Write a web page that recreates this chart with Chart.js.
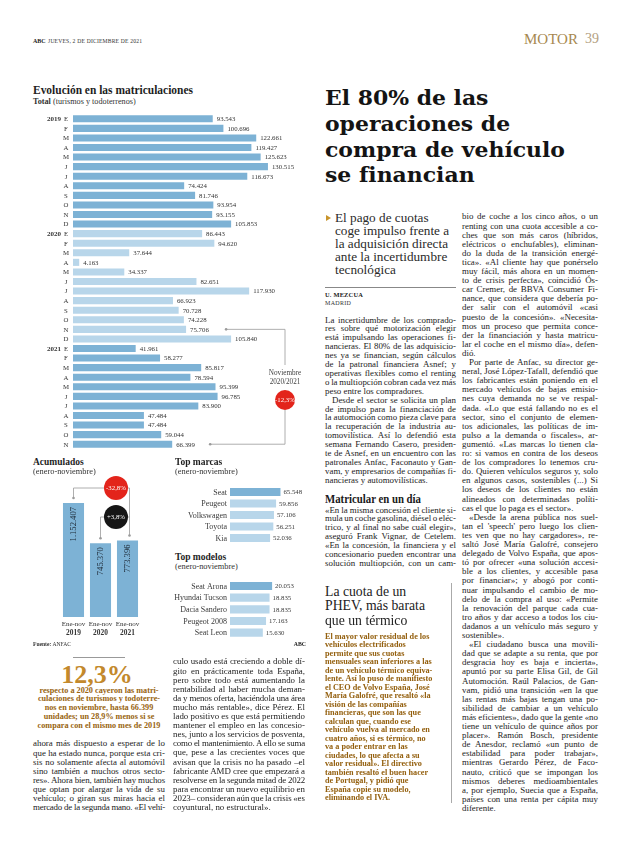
<!DOCTYPE html>
<html lang="es">
<head>
<meta charset="utf-8">
<title>Motor 39</title>
<script src="https://cdn.jsdelivr.net/npm/chart.js@4.4.0/dist/chart.umd.min.js"></script>
<style>
  html, body { margin: 0; padding: 0; }
  body { width: 620px; height: 846px; position: relative; overflow: hidden; background: #fff;
         font-family: "Liberation Serif", serif; color: #262626; }
  .a { position: absolute; white-space: nowrap; }
  canvas { position: absolute; }
</style>
</head>
<body>
<canvas id="evol" width="280" height="342" style="left:33px;top:110px;width:280px;height:342px"></canvas>
<canvas id="acum" width="120" height="172" style="left:33px;top:470px;width:120px;height:172px"></canvas>
<canvas id="marcas" width="140" height="60" style="left:170px;top:484px;width:140px;height:60px"></canvas>
<canvas id="modelos" width="140" height="62" style="left:170px;top:578px;width:140px;height:62px"></canvas>
<script>
// datos (ANFAC)
const evolMonths = ['E', 'F', 'M', 'A', 'M', 'J', 'J', 'A', 'S', 'O', 'N', 'D'];
const evolYears = ['2019', '2020', '2021'];
const total2019 = [93543, 100696, 122661, 119427, 125623, 130515, 116673, 74424, 81746, 93954, 93155, 105853];
const total2020 = [86443, 94620, 37644, 4163, 34337, 82651, 117930, 66923, 70728, 74228, 75706, 105840];
const total2021 = [41961, 58277, 85817, 78594, 95399, 96785, 83900, 47484, 47484, 59044, 66399];
const acumYears = ['2019', '2020', '2021'];
const acumValues = [1152407, 745370, 773396];
const acumChanges = ['-32,8%', '+3,8%'];
const novChange = '-12,3%';
const marcas = ['Seat', 'Peugeot', 'Volkswagen', 'Toyota', 'Kia'];
const marcasValues = [65548, 59856, 57106, 56251, 52036];
const modelos = ['Seat Arona', 'Hyundai Tucson', 'Dacia Sandero', 'Peugeot 2008', 'Seat Leon'];
const modelosValues = [20053, 18835, 18835, 17163, 15630];

const BLUE = '#7db2d5', LIGHT = '#b8d6ea', RED = '#e3241b', LINE = '#9b9b9b';
const fmt = v => String(v).replace(/\B(?=(\d{3})+(?!\d))/g, '.');
const SERIF = '"Liberation Serif"';

const evolValues = [...total2019, ...total2020, ...total2021];
const evolLabels = evolValues.map((v, i) => evolMonths[i % 12]);
const evolColors = evolValues.map((v, i) => (i >= 12 && i < 24) ? LIGHT : BLUE);

function dot(ctx, x, y) { ctx.beginPath(); ctx.arc(x, y, 1.3, 0, Math.PI * 2); ctx.fill(); }
function bubble(ctx, x, y, r, color, text) {
  ctx.fillStyle = color; ctx.beginPath(); ctx.arc(x, y, r, 0, Math.PI * 2); ctx.fill();
  ctx.fillStyle = '#fff'; ctx.font = '6.8px ' + SERIF; ctx.textAlign = 'center'; ctx.textBaseline = 'middle';
  ctx.fillText(text, x, y + 0.5);
}

const evolPlugin = {
  id: 'evolLabels',
  afterDatasetsDraw(chart) {
    const ctx = chart.ctx, bars = chart.getDatasetMeta(0).data;
    ctx.save();
    ctx.textBaseline = 'middle';
    bars.forEach((b, i) => {
      ctx.fillStyle = '#333';
      ctx.font = '6.8px ' + SERIF;
      ctx.textAlign = 'left';
      ctx.fillText(fmt(evolValues[i]), b.x + 4, b.y + 0.5);
      ctx.textAlign = 'center';
      ctx.fillText(evolLabels[i], 33, b.y + 0.5);
      if (i % 12 === 0) {
        ctx.textAlign = 'right';
        ctx.font = 'bold 7px ' + SERIF;
        ctx.fillText(evolYears[i / 12], 28, b.y + 0.5);
      }
    });
    // noviembre 2020 / 2021
    const a = bars[22], c = bars[34], lx = 252;
    ctx.strokeStyle = LINE; ctx.fillStyle = LINE; ctx.lineWidth = 0.8;
    ctx.beginPath();
    ctx.moveTo(a.x + 40, a.y); ctx.lineTo(lx, a.y); ctx.lineTo(lx, 255);
    ctx.moveTo(lx, 300); ctx.lineTo(lx, c.y); ctx.lineTo(c.x + 38, c.y);
    ctx.stroke();
    dot(ctx, a.x + 40, a.y); dot(ctx, c.x + 38, c.y);
    ctx.fillStyle = '#444'; ctx.font = '7.2px ' + SERIF; ctx.textAlign = 'center';
    ctx.fillText('Noviembre', lx, 263);
    ctx.fillText('2020/2021', lx, 272);
    bubble(ctx, lx, 290, 10, RED, novChange);
    ctx.restore();
  }
};

const acumPlugin = {
  id: 'acumLabels',
  afterDatasetsDraw(chart) {
    const ctx = chart.ctx, bars = chart.getDatasetMeta(0).data;
    ctx.save();
    bars.forEach((b, i) => {
      ctx.save();
      ctx.translate(b.x, b.y + 4);
      ctx.rotate(-Math.PI / 2);
      ctx.textAlign = 'right'; ctx.textBaseline = 'middle';
      ctx.font = '8.6px ' + SERIF; ctx.fillStyle = '#1c2733';
      ctx.fillText(fmt(acumValues[i]), 0, 0);
      ctx.restore();
      ctx.textAlign = 'center'; ctx.textBaseline = 'middle'; ctx.fillStyle = '#333';
      ctx.font = '7px ' + SERIF;
      ctx.fillText('Ene-nov', b.x, 154);
      ctx.font = 'bold 7.4px ' + SERIF;
      ctx.fillText(acumYears[i], b.x, 163);
    });
    const x0 = bars[0].x, x1 = bars[1].x, x2 = bars[2].x + 2;
    const cx = (x1 + x2) / 2 + 1;
    ctx.strokeStyle = LINE; ctx.fillStyle = LINE; ctx.lineWidth = 0.8;
    ctx.beginPath();
    ctx.moveTo(x0, bars[0].y - 5); ctx.lineTo(x0, 18); ctx.lineTo(x2, 18); ctx.lineTo(x2, bars[2].y - 5);
    ctx.moveTo(x1, bars[1].y - 5); ctx.lineTo(x1, 47); ctx.lineTo(x2, 47);
    ctx.stroke();
    dot(ctx, x0, bars[0].y - 5); dot(ctx, x1, bars[1].y - 5); dot(ctx, x2, bars[2].y - 5);
    bubble(ctx, cx, 18, 12, RED, acumChanges[0]);
    bubble(ctx, cx, 47, 12, '#161616', acumChanges[1]);
    ctx.restore();
  }
};

function rankPlugin(names, values) {
  return {
    id: 'rankLabels',
    afterDatasetsDraw(chart) {
      const ctx = chart.ctx, bars = chart.getDatasetMeta(0).data;
      ctx.save();
      ctx.textBaseline = 'middle';
      bars.forEach((b, i) => {
        ctx.fillStyle = '#3a3a3a';
        ctx.font = '8px ' + SERIF; ctx.textAlign = 'right';
        ctx.fillText(names[i], 57, b.y + 0.5);
        ctx.font = '6.8px ' + SERIF; ctx.textAlign = 'left';
        ctx.fillText(fmt(values[i]), b.x + 3, b.y + 0.5);
      });
      ctx.restore();
    }
  };
}

const common = {
  responsive: false, maintainAspectRatio: false, animation: false, events: [], devicePixelRatio: 1,
  plugins: { legend: { display: false }, tooltip: { enabled: false } }
};

new Chart(document.getElementById('evol'), {
  type: 'bar',
  data: { labels: evolLabels, datasets: [{ data: evolValues, backgroundColor: evolColors, barPercentage: 0.74, categoryPercentage: 1 }] },
  options: Object.assign({}, common, {
    indexAxis: 'y',
    layout: { padding: { left: 40, right: 1, top: 4, bottom: 3 } },
    scales: { x: { display: false, min: 0, max: 160000 }, y: { display: false } }
  }),
  plugins: [evolPlugin]
});

new Chart(document.getElementById('acum'), {
  type: 'bar',
  data: { labels: acumYears, datasets: [{ data: acumValues, backgroundColor: BLUE, barPercentage: 0.78, categoryPercentage: 1 }] },
  options: Object.assign({}, common, {
    layout: { padding: { left: 27, right: 12, top: 18.4, bottom: 25 } },
    scales: { x: { display: false }, y: { display: false, min: 0, max: 1300000 } }
  }),
  plugins: [acumPlugin]
});

new Chart(document.getElementById('marcas'), {
  type: 'bar',
  data: { labels: marcas, datasets: [{ data: marcasValues, backgroundColor: marcas.map((m, i) => i === 0 ? BLUE : LIGHT), barPercentage: 0.7, categoryPercentage: 1 }] },
  options: Object.assign({}, common, {
    indexAxis: 'y',
    layout: { padding: { left: 60, right: 18.4, top: 2.25, bottom: 0.25 } },
    scales: { x: { display: false, min: 0, max: 80000 }, y: { display: false } }
  }),
  plugins: [rankPlugin(marcas, marcasValues)]
});

new Chart(document.getElementById('modelos'), {
  type: 'bar',
  data: { labels: modelos, datasets: [{ data: modelosValues, backgroundColor: modelos.map((m, i) => i === 0 ? BLUE : LIGHT), barPercentage: 0.7, categoryPercentage: 1 }] },
  options: Object.assign({}, common, {
    indexAxis: 'y',
    layout: { padding: { left: 60, right: 17, top: 2.2, bottom: 1.5 } },
    scales: { x: { display: false, min: 0, max: 30000 }, y: { display: false } }
  }),
  plugins: [rankPlugin(modelos, modelosValues)]
});

// ---- page text ----
function put(x, y, html, css, lh, align) {
  const d = document.createElement('div');
  d.className = 'a';
  d.style.cssText = css || '';
  lh = lh || 10;
  d.style.lineHeight = lh + 'px';
  d.style.top = (y - lh / 2) + 'px';
  d.innerHTML = html;
  document.body.appendChild(d);
  const w = d.getBoundingClientRect().width;
  d.style.left = (align === 'c' ? x - w / 2 : align === 'r' ? x - w : x) + 'px';
  return d;
}
function fit(d, target) {
  const w = d.getBoundingClientRect().width;
  d.style.transformOrigin = 'left center';
  d.style.transform = 'scaleX(' + (target / w) + ')';
  return target / w;
}
function justify(d, w) {
  const nat = d.getBoundingClientRect().width;
  const t = d.textContent, n = (t.match(/ /g) || []).length;
  const extra = w - nat;
  if (n && extra / n > -0.8) d.style.wordSpacing = (extra / n) + 'px';
  else d.style.letterSpacing = (extra / t.length) + 'px';
}
function column(x, y0, w, step, lines, css, ragged) {
  lines.forEach((ln, i) => {
    let t = ln, last = false, ind = 0;
    if (t.endsWith('¶')) { last = true; t = t.slice(0, -1); }
    if (t.startsWith('>')) { ind = 7; t = t.slice(1); }
    const d = put(x + ind, y0 + i * step, '', css, step);
    d.textContent = t;
    const nat = d.getBoundingClientRect().width;
    if ((!last && !ragged) || nat > w - ind) justify(d, w - ind);
  });
}

const BODY = 'font-size:8.9px;color:#1c1c1c;';

// folio
put(33, 41, 'ABC', 'font-size:6px;font-weight:bold;color:#222;', 8);
put(48, 41, 'JUEVES, 2 DE DICIEMBRE DE 2021', 'font-size:5.6px;color:#333;letter-spacing:0.2px;', 8);
put(524, 39, 'MOTOR', 'font-size:15px;color:#a7884f;', 16);
put(585, 39, '39', 'font-size:14px;color:#b3a07f;', 16);

// graphic titles
fit(put(33, 90, 'Evolución en las matriculaciones', 'font-size:12px;font-weight:bold;color:#1e1e1e;', 14), 160);
put(33, 102, '<b>Total</b> (turismos y todoterrenos)', 'font-size:8.2px;color:#333;', 10);
put(33, 462, 'Acumulados', 'font-size:9.5px;font-weight:bold;color:#1e1e1e;', 11);
put(33, 472, '(enero-noviembre)', 'font-size:8.4px;color:#333;', 10);
put(175, 462, 'Top marcas', 'font-size:9.5px;font-weight:bold;color:#1e1e1e;', 11);
put(175, 472, '(enero-noviembre)', 'font-size:8.4px;color:#333;', 10);
put(175, 557, 'Top modelos', 'font-size:9.5px;font-weight:bold;color:#1e1e1e;', 11);
put(175, 567, '(enero-noviembre)', 'font-size:8.4px;color:#333;', 10);
put(33, 644, '<b>Fuente:</b> ANFAC', 'font-size:5.6px;color:#333;', 8);
put(306, 644, 'ABC', 'font-size:5.8px;font-weight:bold;color:#222;', 8, 'r');

// headline
const headLines = ['El 80% de las', 'operaciones de', 'compra de vehículo', 'se financian'];
const hd = headLines.map((t, i) => put(325, 98 + i * 25.8, t, 'font-family:"DejaVu Serif";font-size:21px;font-weight:bold;color:#141414;', 26));
const hs = 240 / hd[2].getBoundingClientRect().width;
hd.forEach(d => { d.style.transformOrigin = 'left center'; d.style.transform = 'scaleX(' + hs + ')'; });

// deck
const tri = document.createElement('div');
tri.className = 'a';
tri.style.cssText = 'left:326px;top:215px;width:0;height:0;border-top:3px solid transparent;border-bottom:3px solid transparent;border-left:5px solid #c8942c;';
document.body.appendChild(tri);
const deckLines = ['El pago de cuotas', 'coge impulso frente a', 'la adquisición directa', 'ante la incertidumbre', 'tecnológica'];
const dk = deckLines.map((t, i) => put(335, 218 + i * 13, t, 'font-size:12.5px;color:#2a2a2a;', 14));
const ds = 113 / dk[2].getBoundingClientRect().width;
dk.forEach(d => { d.style.transformOrigin = 'left center'; d.style.transform = 'scaleX(' + ds + ')'; });

function rule(x, y, w, h, c) {
  const d = document.createElement('div');
  d.className = 'a';
  d.style.cssText = 'left:' + x + 'px;top:' + y + 'px;width:' + w + 'px;height:' + h + 'px;background:' + (c || '#999') + ';';
  document.body.appendChild(d);
}
rule(325, 287, 131, 0.7, '#888');
put(325, 295, 'U. MEZCUA', 'font-size:6.4px;font-weight:bold;color:#222;letter-spacing:0.2px;', 8);
put(325, 303, 'MADRID', 'font-size:6px;color:#333;letter-spacing:0.3px;', 8);

const colMid1 = [
  'La incertidumbre de los comprado-',
  'res sobre qué motorización elegir',
  'está impulsando las operaciones fi-',
  'nancieras. El 80% de las adquisicio-',
  'nes ya se financian, según cálculos',
  'de la patronal financiera Asnef; y',
  'operativas flexibles como el renting',
  'o la multiopción cobran cada vez más',
  'peso entre los compradores.¶',
  '>Desde el sector se solicita un plan',
  'de impulso para la financiación de',
  'la automoción como pieza clave para',
  'la recuperación de la industria au-',
  'tomovilística. Así lo defendió esta',
  'semana Fernando Casero, presiden-',
  'te de Asnef, en un encuentro con las',
  'patronales Anfac, Faconauto y Gan-',
  'vam, y empresarios de compañías fi-',
  'nancieras y automovilísticas.¶'
];
column(325, 320, 131, 8.9, colMid1, BODY);
fit(put(325, 499, 'Matricular en un día', 'font-size:11.5px;font-weight:bold;color:#1a1a1a;', 13), 96);
const colMid2 = [
  '«En la misma concesión el cliente si-',
  'mula un coche gasolina, diésel o eléc-',
  'trico, y al final no sabe cuál elegir»,',
  'aseguró Frank Vignar, de Cetelem.',
  '«En la concesión, la financiera y el',
  'concesionario pueden encontrar una',
  'solución multiopción, con un cam-'
];
column(325, 510, 131, 8.9, colMid2, BODY);

// despiece PHEV
const boxTitle = ['La cuota de un', 'PHEV, más barata', 'que un térmico'];
const bt = boxTitle.map((t, i) => put(325, 591 + i * 14.6, t, 'font-size:14px;color:#222;', 15));
const bs = 100 / bt[1].getBoundingClientRect().width;
bt.forEach(d => { d.style.transformOrigin = 'left center'; d.style.transform = 'scaleX(' + bs + ')'; });
const boxText = [
  'El mayor valor residual de los',
  'vehículos electrificados',
  'permite que sus cuotas',
  'mensuales sean inferiores a las',
  'de un vehículo térmico equiva-',
  'lente. Así lo puso de manifiesto',
  'el CEO de Volvo España, José',
  'María Galofré, que resaltó «la',
  'visión de las compañías',
  'financieras, que son las que',
  'calculan que, cuando ese',
  'vehículo vuelva al mercado en',
  'cuatro años, si es térmico, no',
  'va a poder entrar en las',
  'ciudades, lo que afecta a su',
  'valor residual». El directivo',
  'también resaltó el buen hacer',
  'de Portugal, y pidió que',
  'España copie su modelo,',
  'eliminando el IVA.'
];
column(325, 637, 118, 8.5, boxText, 'font-size:8.2px;font-weight:bold;color:#94600f;', true);
rule(451, 583, 0.7, 220, '#aaa');

const colRight = [
  'bio de coche a los cinco años, o un',
  'renting con una cuota accesible a co-',
  'ches que son más caros (híbridos,',
  'eléctricos o enchufables), eliminan-',
  'do la duda de la transición energé-',
  'tica». «Al cliente hay que ponérselo',
  'muy fácil, más ahora en un momen-',
  'to de crisis perfecta», coincidió Ós-',
  'car Cremer, de BBVA Consumer Fi-',
  'nance, que considera que debería po-',
  'der salir con el automóvil «casi',
  'puesto de la concesión». «Necesita-',
  'mos un proceso que permita conce-',
  'der la financiación y hasta matricu-',
  'lar el coche en el mismo día», defen-',
  'dió.¶',
  '>Por parte de Anfac, su director ge-',
  'neral, José López-Tafall, defendió que',
  'los fabricantes están poniendo en el',
  'mercado vehículos de bajas emisio-',
  'nes cuya demanda no se ve respal-',
  'dada. «Lo que está fallando no es el',
  'sector, sino el conjunto de elemen-',
  'tos adicionales, las políticas de im-',
  'pulso a la demanda o fiscales», ar-',
  'gumentó. «Las marcas lo tienen cla-',
  'ro: si vamos en contra de los deseos',
  'de los compradores lo tenemos cru-',
  'do. Quieren vehículos seguros y, solo',
  'en algunos casos, sostenibles (...) Si',
  'los deseos de los clientes no están',
  'alineados con determinadas políti-',
  'cas el que lo paga es el sector».¶',
  '>«Desde la arena pública nos suel-',
  'tan el \'speech\' pero luego los clien-',
  'tes ven que no hay cargadores», re-',
  'saltó José María Galofré, consejero',
  'delegado de Volvo España, que apos-',
  'tó por ofrecer «una solución accesi-',
  'ble a los clientes, y accesible pasa',
  'por financiar»; y abogó por conti-',
  'nuar impulsando el cambio de mo-',
  'delo de la compra al uso: «Permite',
  'la renovación del parque cada cua-',
  'tro años y dar acceso a todos los ciu-',
  'dadanos a un vehículo más seguro y',
  'sostenible».¶',
  '>«El ciudadano busca una movili-',
  'dad que se adapte a su renta, que por',
  'desgracia hoy es baja e incierta»,',
  'apuntó por su parte Elisa Gil, de Gil',
  'Automoción. Raúl Palacios, de Gan-',
  'vam, pidió una transición «en la que',
  'las rentas más bajas tengan una po-',
  'sibilidad de cambiar a un vehículo',
  'más eficientes», dado que la gente «no',
  'tiene un vehículo de quince años por',
  'placer». Ramón Bosch, presidente',
  'de Anesdor, reclamó «un punto de',
  'estabilidad para poder trabajar»,',
  'mientras Gerardo Pérez, de Faco-',
  'nauto, criticó que se impongan los',
  'mismos deberes medioambientales',
  'a, por ejemplo, Suecia que a España,',
  'países con una renta per cápita muy',
  'diferente.¶'
];
column(462, 217, 136, 9.1, colRight, BODY);

// destacado 12,3%
rule(73, 657, 52, 0.7, '#999');
put(97, 675, '12,3%', 'font-size:26px;font-weight:bold;color:#c3892c;', 26, 'c');
const highLines = [
  'respecto a 2020 cayeron las matri-',
  'culaciones de turismos y todoterre-',
  'nos en noviembre, hasta 66.399',
  'unidades; un 28,9% menos si se',
  'compara con el mismo mes de 2019'
];
highLines.forEach((t, i) => put(99, 690 + i * 8.9, t, 'font-size:8.2px;font-weight:bold;color:#98640f;', 9, 'c'));

const colLeftA = [
  'ahora más dispuesto a esperar de lo',
  'que ha estado nunca, porque esta cri-',
  'sis no solamente afecta al automóvil',
  'sino también a muchos otros secto-',
  'res». Ahora bien, también hay muchos',
  'que optan por alargar la vida de su',
  'vehículo; o giran sus miras hacia el',
  'mercado de la segunda mano. «El vehí-'
];
column(33, 744, 132, 9.1, colLeftA, BODY);
const colLeftB = [
  'culo usado está creciendo a doble dí-',
  'gito en prácticamente toda España,',
  'pero sobre todo está aumentando la',
  'rentabilidad al haber mucha deman-',
  'da y menos oferta, haciéndola una área',
  'mucho más rentable», dice Pérez. El',
  'lado positivo es que está permitiendo',
  'mantener el empleo en las concesio-',
  'nes, junto a los servicios de posventa,',
  'como el mantenimiento. A ello se suma',
  'que, pese a las crecientes voces que',
  'avisan que la crisis no ha pasado –el',
  'fabricante AMD cree que empezará a',
  'resolverse en la segunda mitad de 2022',
  'para encontrar un nuevo equilibrio en',
  '2023– consideran aún que la crisis «es',
  'coyuntural, no estructural».¶'
];
column(173, 662, 132, 9.1, colLeftB, BODY);
</script>
</body>
</html>
